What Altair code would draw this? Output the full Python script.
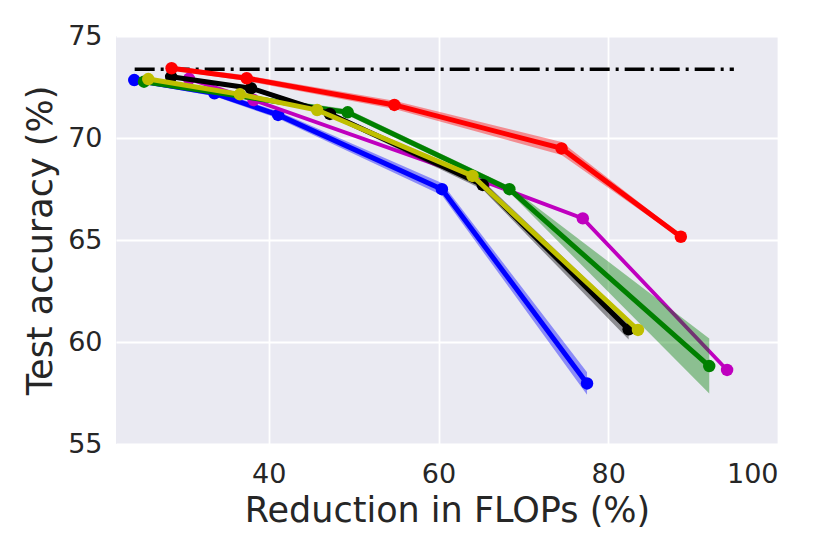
import altair as alt
import pandas as pd

# ---- data ----
series_names = ["blue", "magenta", "green", "black", "yellow", "red"]
series_colors = {"blue": "#0000FF", "magenta": "#BF00BF", "green": "#008000",
                 "black": "#000000", "yellow": "#BFBF00", "red": "#FF0000"}

blue_x = [24.15, 33.6, 41.1, 60.4, 77.5]
blue_y = [72.84, 72.19, 71.13, 67.49, 57.97]
blue_sd = [0.1, 0.14, 0.18, 0.3, 0.55]

red_x = [28.55, 37.4, 54.8, 74.5, 88.55]
red_y = [73.42, 72.93, 71.62, 69.49, 65.16]
red_sd = [0.1, 0.14, 0.2, 0.32, 0.1]

magenta_x = [30.6, 38.2, 65.5, 77.0, 94.0]
magenta_y = [72.9, 71.86, 67.85, 66.06, 58.63]
magenta_sd = [0.04, 0.04, 0.05, 0.06, 0.05]

green_x = [25.3, 49.3, 68.35, 91.9]
green_y = [72.76, 71.26, 67.49, 58.82]
green_sd = [0.08, 0.15, 0.15, 1.35]

black_x = [28.5, 37.9, 47.2, 65.2, 82.4]
black_y = [73.0, 72.44, 71.18, 67.7, 60.62]
black_sd = [0.08, 0.1, 0.12, 0.22, 0.5]

yellow_x = [25.8, 36.6, 45.7, 64.0, 83.5]
yellow_y = [72.89, 72.14, 71.37, 68.14, 60.59]
yellow_sd = [0.05, 0.05, 0.08, 0.1, 0.12]

baseline_x = [24.2, 94.8]
baseline_y = [73.37, 73.37]

x_ticks = [40, 60, 80, 100]
y_ticks = [55, 60, 65, 70, 75]

series_data = {
    "blue": (blue_x, blue_y, blue_sd),
    "red": (red_x, red_y, red_sd),
    "magenta": (magenta_x, magenta_y, magenta_sd),
    "green": (green_x, green_y, green_sd),
    "black": (black_x, black_y, black_sd),
    "yellow": (yellow_x, yellow_y, yellow_sd),
}
line_widths = {"blue": 5, "red": 5, "magenta": 3.8, "green": 5,
               "black": 5, "yellow": 5}

xscale = alt.Scale(domain=[22, 100], nice=False, zero=False)
yscale = alt.Scale(domain=[55, 75], nice=False, zero=False)

xaxis = alt.Axis(values=x_ticks, title="Reduction in FLOPs (%)", format="d")
yaxis = alt.Axis(values=y_ticks, title="Test accuracy (%)", format="d")

base_df = pd.DataFrame({"x": baseline_x, "y": baseline_y})
layers = [
    alt.Chart(base_df).mark_line(color="black", strokeWidth=3.5,
                                 strokeDash=[20, 6, 3, 6]).encode(
        x=alt.X("x:Q", scale=xscale, axis=xaxis),
        y=alt.Y("y:Q", scale=yscale, axis=yaxis),
    )
]

for name in series_names:
    xs, ys, sds = series_data[name]
    df = pd.DataFrame({
        "x": xs, "y": ys,
        "lo": [a - b for a, b in zip(ys, sds)],
        "hi": [a + b for a, b in zip(ys, sds)],
    })
    c = series_colors[name]
    band = alt.Chart(df).mark_area(color=c, opacity=0.4).encode(
        x=alt.X("x:Q", scale=xscale), y=alt.Y("lo:Q", scale=yscale), y2="hi:Q")
    line = alt.Chart(df).mark_line(color=c, strokeWidth=line_widths[name]).encode(
        x=alt.X("x:Q", scale=xscale), y=alt.Y("y:Q", scale=yscale))
    pts = alt.Chart(df).mark_circle(color=c, size=155, opacity=1).encode(
        x=alt.X("x:Q", scale=xscale), y=alt.Y("y:Q", scale=yscale))
    layers += [band, line, pts]

chart = alt.layer(*layers).properties(
    width=662, height=408,
    autosize=alt.AutoSizeParams(type="none"),
    padding={"left": 108, "top": 28, "right": 44, "bottom": 102},
    background="white",
).configure_view(
    fill="#EAEAF2", stroke=None
).configure_axis(
    grid=True, gridColor="white", gridWidth=1.8, gridOpacity=1,
    domain=False, ticks=False,
    labelFont="DejaVu Sans", labelFontSize=27, labelColor="#262626",
    titleFont="DejaVu Sans", titleFontSize=35, titleFontWeight="normal",
    titleColor="#262626",
).configure_axisX(
    labelPadding=17, titlePadding=6
).configure_axisY(
    labelPadding=14, titlePadding=9
)

chart.save("out.html", embed_options={"renderer": "svg", "actions": False})
